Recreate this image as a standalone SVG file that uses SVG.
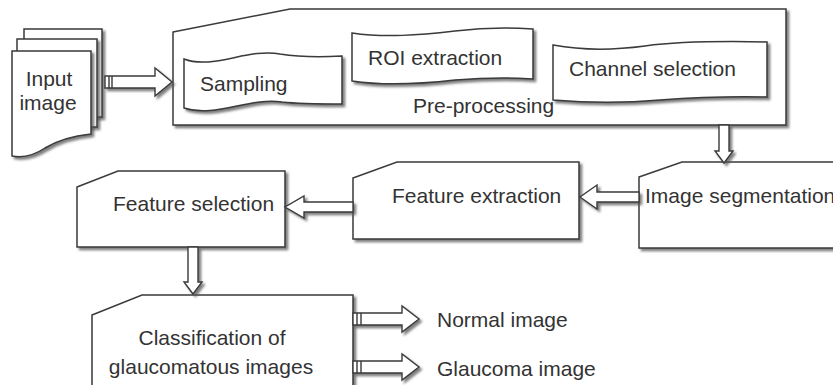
<svg xmlns="http://www.w3.org/2000/svg" width="833" height="385" viewBox="0 0 833 385">
<defs>
<filter id="sh" x="-10%" y="-10%" width="130%" height="130%">
<feDropShadow dx="2.5" dy="2.5" stdDeviation="1" flood-color="#555" flood-opacity="0.75"/>
</filter>
</defs>
<style>
.s{fill:#fff;stroke:#3a3a3a;stroke-width:1.5;filter:url(#sh)}
.a{fill:#fff;stroke:#3a3a3a;stroke-width:1.4;stroke-linejoin:miter;filter:url(#sh)}
.b{stroke:#3a3a3a;stroke-width:1.4}
.t{font-family:"Liberation Sans",Arial,sans-serif;font-size:21px;fill:#333}
.m{text-anchor:middle}
</style>
<rect width="833" height="385" fill="#fff"/>

<g id="input">
<path class="s" d="M24,29 H102 V117 H24 Z"/>
<path class="s" d="M17,39 H97 V127 H17 Z"/>
<path class="s" d="M12,51 H91 V134 C72,136 58,140 45,148 C33,156 22,158 12,156 Z"/>
<text class="t m" x="49" y="86">Input</text>
<text class="t m" x="48" y="110">image</text>
</g>

<g id="preprocessing">
<path class="s" d="M173,32 L290,9 H786 V125 H173 Z"/>
<text class="t" x="413" y="113">Pre-processing</text>
</g>

<g id="sampling">
<path class="s" d="M184,59 C212,70 248,48 280,54 C305,58 325,57 342,56 V104 C322,104 300,104 282,102 C250,97 215,118 184,108 Z"/>
<text class="t" x="200" y="91">Sampling</text>
</g>

<g id="roi">
<path class="s" d="M352,33 C385,38 420,35 455,31 C480,28 505,27 533,29 V79 C505,77 480,78 455,80 C420,84 385,86 352,81 Z"/>
<text class="t" x="368" y="65">ROI extraction</text>
</g>

<g id="channel">
<path class="s" d="M553,45 C585,51 615,50 645,46 C675,42 720,41 767,42 V97 C730,96 700,97 660,100 C625,103 590,103 553,100 Z"/>
<text class="t" x="569" y="76">Channel selection</text>
</g>

<g id="segmentation">
<path class="s" d="M639,177 L682,162 H845 V248 H639 Z"/>
<text class="t" x="645" y="203">Image segmentation</text>
</g>

<g id="extraction">
<path class="s" d="M353,178 L397,162 H579 V239 H353 Z"/>
<text class="t" x="392" y="203">Feature extraction</text>
</g>

<g id="selection">
<path class="s" d="M77,187 L118,171 H285 V247 H77 Z"/>
<text class="t" x="113" y="211">Feature selection</text>
</g>

<g id="classification">
<path class="s" d="M92,315 L142,295 H353 V395 H92 Z"/>
<text class="t m" x="212" y="345">Classification of</text>
<text class="t m" x="211" y="374">glaucomatous images</text>
</g>

<g id="normal">
<text class="t" x="437" y="327">Normal image</text>
</g>
<g id="glaucoma">
<text class="t" x="437" y="376">Glaucoma image</text>
</g>

<g id="connectors">
<path class="a" d="M105,76 H155 V68 L172,82 L155,96 V88 H105 Z"/>
<path class="b" d="M109,76 V88 M112,76 V88"/>
<path class="a" d="M719,125 V151 H715 L724,163 L733,151 H729 V125 Z"/>
<path class="a" d="M639,192 H597 V185 L580,197 L597,209 V202 H639 Z"/>
<path class="a" d="M353,202 H304 V196 L285,207 L304,218 V212 H353 Z"/>
<path class="a" d="M188,247 V282 H184 L193,294 L202,282 H198 V247 Z"/>
<path class="a" d="M353,313 H402 V306 L419,319 L402,332 V325 H353 Z"/>
<path class="b" d="M357,313 V325 M361,313 V325"/>
<path class="a" d="M353,361 H402 V354 L419,367 L402,380 V373 H353 Z"/>
<path class="b" d="M357,361 V373 M361,361 V373"/>
</g>
</svg>
